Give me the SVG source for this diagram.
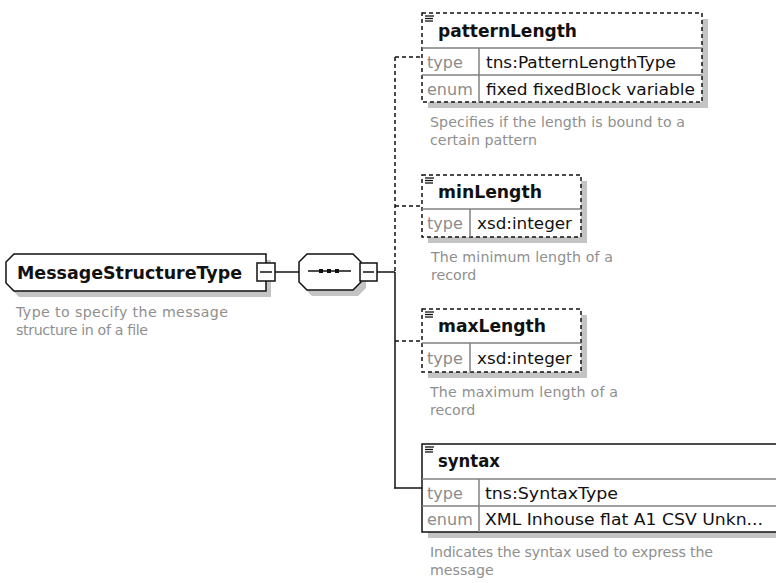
<svg xmlns="http://www.w3.org/2000/svg" width="776" height="583" viewBox="0 0 776 583">
<style>
  .bg{fill:#ffffff}
  .shadow{fill:#c4c4c4;stroke:none}
  .box{fill:#ffffff;stroke:#111111;stroke-width:1.5}
  .opt{fill:#ffffff;stroke:#111111;stroke-width:1.5;stroke-dasharray:4,3}
  .sep{stroke:#808080;stroke-width:1.5;fill:none}
  .conn{stroke:#111111;stroke-width:1.5;fill:none}
  .dash{stroke:#111111;stroke-width:1.5;fill:none;stroke-dasharray:4,3}
  .name{font-family:"DejaVu Sans","Liberation Sans",sans-serif;font-weight:bold;font-size:17px;fill:#111111}
  .lbl{font-family:"DejaVu Sans","Liberation Sans",sans-serif;font-size:16px;fill:#8c8c8c}
  .val{font-family:"DejaVu Sans","Liberation Sans",sans-serif;font-size:16.5px;fill:#111111}
  .desc{font-family:"DejaVu Sans","Liberation Sans",sans-serif;font-size:14.2px;fill:#8f8f8f}
  .icon{stroke:#111111;stroke-width:1.3}
</style>
<rect class="bg" x="0" y="0" width="776" height="583"/>

<g id="connectors">
  <line class="conn" x1="275" y1="272" x2="299" y2="272"/>
  <line class="conn" x1="377" y1="272" x2="395" y2="272"/>
  <line class="dash" x1="395" y1="57" x2="395" y2="272"/>
  <line class="conn" x1="395" y1="272" x2="395" y2="488.5"/>
  <line class="dash" x1="395" y1="57" x2="422" y2="57"/>
  <line class="dash" x1="395" y1="206" x2="422" y2="206"/>
  <line class="dash" x1="395" y1="341" x2="422" y2="341"/>
  <line class="conn" x1="394.25" y1="488" x2="422" y2="488"/>
</g>

<g id="MessageStructureType">
  <path class="shadow" d="M19,260 H271 V297 H19 L11,289 V268 Z"/>
  <path class="box" d="M14,254 H266 V291 H14 L6,283 V262 Z"/>
  <text class="name" x="17" y="279" textLength="225" lengthAdjust="spacingAndGlyphs">MessageStructureType</text>
  <rect class="box" x="257" y="263" width="18" height="18"/>
  <line class="conn" x1="260" y1="272" x2="272" y2="272"/>
  <text class="desc" x="16" y="317" textLength="212">Type to specify the message</text>
  <text class="desc" x="16" y="335" textLength="132">structure in of a file</text>
</g>

<g id="sequence">
  <path class="shadow" d="M312,260 H358 L366,268 V288 L358,296 H312 L304,288 V268 Z"/>
  <path class="box" d="M307,254 H353 L361,262 V282 L353,290 H307 L299,282 V262 Z"/>
  <line class="conn" x1="308" y1="271" x2="351" y2="271"/>
  <rect x="319" y="269" width="4" height="4" fill="#111111"/>
  <rect x="327" y="269" width="4" height="4" fill="#111111"/>
  <rect x="335" y="269" width="4" height="4" fill="#111111"/>
  <rect class="box" x="360" y="263" width="17" height="18"/>
  <line class="conn" x1="363" y1="272" x2="374" y2="272"/>
</g>

<g id="patternLength">
  <rect class="shadow" x="428" y="19" width="280" height="89"/>
  <rect class="opt" x="422" y="13" width="280" height="89"/>
  <line class="sep" x1="422" y1="48" x2="702" y2="48"/>
  <line class="sep" x1="422" y1="75" x2="702" y2="75"/>
  <line class="sep" x1="479" y1="48" x2="479" y2="102"/>
  <line class="icon" x1="425" y1="16" x2="434" y2="16"/>
  <line class="icon" x1="425" y1="18.5" x2="433" y2="18.5"/>
  <line class="icon" x1="425" y1="21" x2="433" y2="21"/>
  <text class="name" x="438" y="37" textLength="139" lengthAdjust="spacingAndGlyphs">patternLength</text>
  <text class="lbl" x="427" y="68">type</text>
  <text class="val" x="486" y="68" textLength="190" lengthAdjust="spacingAndGlyphs">tns:PatternLengthType</text>
  <text class="lbl" x="427" y="95">enum</text>
  <text class="val" x="486" y="95" textLength="209" lengthAdjust="spacingAndGlyphs">fixed fixedBlock variable</text>
  <text class="desc" x="430" y="127" textLength="255">Specifies if the length is bound to a</text>
  <text class="desc" x="430" y="145" textLength="107">certain pattern</text>
</g>

<g id="minLength">
  <rect class="shadow" x="428" y="181" width="159" height="62"/>
  <rect class="opt" x="422" y="175" width="159" height="62"/>
  <line class="sep" x1="422" y1="209" x2="581" y2="209"/>
  <line class="sep" x1="470" y1="209" x2="470" y2="237"/>
  <line class="icon" x1="425" y1="178" x2="434" y2="178"/>
  <line class="icon" x1="425" y1="180.5" x2="433" y2="180.5"/>
  <line class="icon" x1="425" y1="183" x2="433" y2="183"/>
  <text class="name" x="438" y="198" textLength="104" lengthAdjust="spacingAndGlyphs">minLength</text>
  <text class="lbl" x="427" y="229">type</text>
  <text class="val" x="477" y="229" textLength="95" lengthAdjust="spacingAndGlyphs">xsd:integer</text>
  <text class="desc" x="431" y="262" textLength="182">The minimum length of a</text>
  <text class="desc" x="431" y="280">record</text>
</g>

<g id="maxLength">
  <rect class="shadow" x="428" y="315" width="159" height="63"/>
  <rect class="opt" x="422" y="309" width="159" height="63"/>
  <line class="sep" x1="422" y1="343" x2="581" y2="343"/>
  <line class="sep" x1="470" y1="343" x2="470" y2="372"/>
  <line class="icon" x1="425" y1="312" x2="434" y2="312"/>
  <line class="icon" x1="425" y1="314.5" x2="433" y2="314.5"/>
  <line class="icon" x1="425" y1="317" x2="433" y2="317"/>
  <text class="name" x="438" y="332" textLength="108" lengthAdjust="spacingAndGlyphs">maxLength</text>
  <text class="lbl" x="427" y="364">type</text>
  <text class="val" x="477" y="364" textLength="95" lengthAdjust="spacingAndGlyphs">xsd:integer</text>
  <text class="desc" x="430" y="397" textLength="188">The maximum length of a</text>
  <text class="desc" x="430" y="415">record</text>
</g>

<g id="syntax">
  <rect class="shadow" x="428" y="450" width="360" height="88"/>
  <rect class="box" x="422" y="444" width="370" height="88"/>
  <line class="sep" x1="422" y1="479" x2="776" y2="479"/>
  <line class="sep" x1="422" y1="506" x2="776" y2="506"/>
  <line class="sep" x1="479" y1="479" x2="479" y2="532"/>
  <line class="icon" x1="425" y1="447" x2="434" y2="447"/>
  <line class="icon" x1="425" y1="449.5" x2="433" y2="449.5"/>
  <line class="icon" x1="425" y1="452" x2="433" y2="452"/>
  <text class="name" x="438" y="467" textLength="62" lengthAdjust="spacingAndGlyphs">syntax</text>
  <text class="lbl" x="427" y="499">type</text>
  <text class="val" x="485" y="499" textLength="133" lengthAdjust="spacingAndGlyphs">tns:SyntaxType</text>
  <text class="lbl" x="427" y="525">enum</text>
  <text class="val" x="485" y="525" textLength="278" lengthAdjust="spacingAndGlyphs">XML Inhouse flat A1 CSV Unkn...</text>
  <text class="desc" x="430" y="557" textLength="283">Indicates the syntax used to express the</text>
  <text class="desc" x="430" y="575">message</text>
</g>
</svg>
